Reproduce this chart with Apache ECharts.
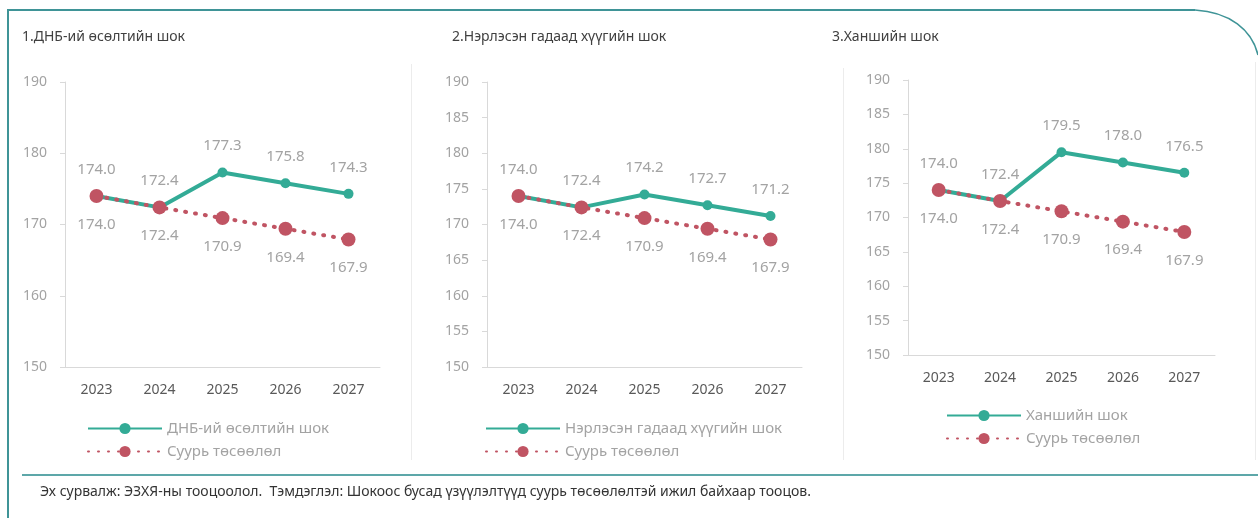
<!DOCTYPE html>
<html>
<head>
<meta charset="utf-8">
<script src="https://cdn.jsdelivr.net/npm/echarts@6/dist/echarts.min.js"></script>
<style>
  html, body { margin: 0; padding: 0; background: #fff; }
  #chart { width: 1258px; height: 518px; }
</style>
</head>
<body>
<div id="chart"></div>
<script>
// data
const years = ['2023', '2024', '2025', '2026', '2027']
const baseline = [174.0, 172.4, 170.9, 169.4, 167.9]
const gdpShock = [174.0, 172.4, 177.3, 175.8, 174.3]
const rateShock = [174.0, 172.4, 174.2, 172.7, 171.2]
const fxShock = [174.0, 172.4, 179.5, 178.0, 176.5]

const titles = ['1.ДНБ-ий өсөлтийн шок', '2.Нэрлэсэн гадаад хүүгийн шок', '3.Ханшийн шок']
const shockNames = ['ДНБ-ий өсөлтийн шок', 'Нэрлэсэн гадаад хүүгийн шок', 'Ханшийн шок']
const baseName = 'Суурь төсөөлөл'
const yIntervals = [10, 5, 5]
const footnote = 'Эх сурвалж: ЭЗХЯ-ны тооцоолол.  Тэмдэглэл: Шокоос бусад үзүүлэлтүүд суурь төсөөлөлтэй ижил байхаар тооцов.'

const shocks = [gdpShock, rateShock, fxShock]
const font = '"Noto Sans", "Open Sans", sans-serif'
const green = '#33ab96'
const red = '#c05463'
const grey = '#a3a3a3'
const teal = '#3f9497'

const grids = [
  { left: 65, top: 82, width: 315, height: 285 },
  { left: 487, top: 82, width: 315, height: 285 },
  { left: 908, top: 80, width: 307, height: 275 },
]
const legendPos = [
  { left: 82, top: 416 },
  { left: 480, top: 416 },
  { left: 941, top: 403 },
]
const titlePos = [17, 447, 827]

const xAxes = grids.map((g, i) => ({
  type: 'category',
  gridIndex: i,
  data: years,
  axisLine: { lineStyle: { color: '#d9d9d9' } },
  axisTick: { lineStyle: { color: '#d9d9d9' }, length: 5 },
  axisLabel: { color: '#595959', fontSize: 14, fontFamily: font, margin: 16 },
}))
const yAxes = grids.map((g, i) => ({
  type: 'value',
  gridIndex: i,
  min: 150,
  max: 190,
  interval: yIntervals[i],
  axisLine: { show: true, lineStyle: { color: '#d9d9d9' } },
  axisTick: { show: true, length: 5, lineStyle: { color: '#d9d9d9' } },
  splitLine: { show: false },
  axisLabel: { color: grey, fontSize: 14, fontFamily: font, margin: 18 },
}))

const labelStyle = (pos) => ({
  show: true,
  position: pos,
  distance: 14,
  color: grey,
  fontSize: 15,
  fontFamily: font,
  formatter: (p) => p.value.toFixed(1),
})

const series = []
shocks.forEach((data, i) => {
  series.push({
    name: shockNames[i],
    type: 'line',
    xAxisIndex: i,
    yAxisIndex: i,
    data: data,
    symbol: 'circle',
    symbolSize: 10,
    itemStyle: { color: green },
    lineStyle: { color: green, width: 4 },
    label: labelStyle('top'),
    z: 2,
  })
  series.push({
    name: baseName,
    type: 'line',
    xAxisIndex: i,
    yAxisIndex: i,
    data: baseline,
    symbol: 'circle',
    symbolSize: 14,
    itemStyle: { color: red },
    lineStyle: { color: red, width: 4, type: [1, 9], cap: 'round' },
    label: labelStyle('bottom'),
    z: 3,
  })
})

const chart = echarts.init(document.getElementById('chart'))
chart.setOption({
  animation: false,
  backgroundColor: '#fff',
  title: titles.map((t, i) => ({
    text: t,
    left: titlePos[i],
    top: 25,
    textStyle: { fontSize: 14, fontWeight: 'normal', color: '#404040', fontFamily: font },
  })),
  legend: grids.map((g, i) => ({
    data: [shockNames[i], baseName],
    orient: 'vertical',
    left: legendPos[i].left,
    top: legendPos[i].top,
    itemWidth: 74,
    itemHeight: 14,
    itemGap: 8,
    selectedMode: false,
    textStyle: { color: grey, fontSize: 15, fontFamily: font },
  })),
  grid: grids,
  xAxis: xAxes,
  yAxis: yAxes,
  series: series,
  graphic: [
    // outer frame
    {
      type: 'polyline',
      shape: { points: [[8, 518], [8, 10], [1195, 10]] },
      style: { stroke: teal, lineWidth: 2, fill: null },
      silent: true,
    },
    {
      type: 'bezierCurve',
      shape: { x1: 1195, y1: 10, cpx1: 1230, cpy1: 12, cpx2: 1252, cpy2: 30, x2: 1258, y2: 55 },
      style: { stroke: teal, lineWidth: 1.5, fill: null },
      silent: true,
    },
    // panel separators
    { type: 'line', shape: { x1: 411.5, y1: 64, x2: 411.5, y2: 460 }, style: { stroke: '#ececec', lineWidth: 1 }, silent: true },
    { type: 'line', shape: { x1: 843.5, y1: 68, x2: 843.5, y2: 460 }, style: { stroke: '#ececec', lineWidth: 1 }, silent: true },
    { type: 'line', shape: { x1: 1255.5, y1: 62, x2: 1255.5, y2: 460 }, style: { stroke: '#ececec', lineWidth: 1 }, silent: true },
    // bottom rule
    { type: 'line', shape: { x1: 22, y1: 475, x2: 1258, y2: 475 }, style: { stroke: '#5da7a9', lineWidth: 2 }, silent: true },
    {
      type: 'text',
      left: 40,
      top: 485,
      style: { text: footnote, fill: '#333', fontSize: 14, fontFamily: font },
      silent: true,
    },
  ],
})
</script>
</body>
</html>
